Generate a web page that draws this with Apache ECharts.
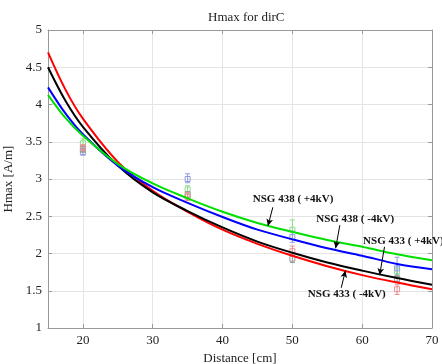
<!DOCTYPE html>
<html>
<head>
<meta charset="utf-8">
<script src="https://cdn.jsdelivr.net/npm/echarts@6/dist/echarts.min.js"></script>
<style>html,body{margin:0;padding:0;background:#fff;}#c{width:442px;height:364px;}</style>
</head>
<body>
<div id="c"></div>
<script>
// ---- data ----
const distance = [15, 17.5, 20, 25, 30, 35, 40, 45, 50, 55, 60, 65, 70];
const nsg433minus = [4.70, 4.20, 3.81, 3.23, 2.84, 2.56, 2.32, 2.13, 1.97, 1.83, 1.71, 1.61, 1.52]; // red
const nsg433plus  = [4.50, 4.05, 3.70, 3.18, 2.82, 2.57, 2.35, 2.16, 2.01, 1.88, 1.77, 1.67, 1.58]; // black
const nsg438minus = [4.23, 3.88, 3.60, 3.18, 2.89, 2.68, 2.49, 2.32, 2.19, 2.07, 1.97, 1.86, 1.79]; // blue
const nsg438plus  = [4.13, 3.82, 3.58, 3.20, 2.94, 2.74, 2.56, 2.41, 2.29, 2.18, 2.09, 1.99, 1.91]; // green

// measured points with error bars: [centre, low, high] at measX
const measX = [20, 35, 50, 65];
const meas433minus = [[3.42, 3.38, 3.46], [2.76, 2.71, 2.82], [2.03, 1.98, 2.10], [1.52, 1.45, 1.58]];
const meas433plus  = [[3.40, 3.36, 3.44], [2.79, 2.75, 2.83], [1.93, 1.88, 1.98], [1.66, 1.62, 1.70]];
const meas438minus = [[3.36, 3.32, 3.41], [3.00, 2.95, 3.07], [2.22, 2.15, 2.30], [1.80, 1.70, 1.95]];
const meas438plus  = [[3.48, 3.43, 3.54], [2.86, 2.81, 2.91], [2.32, 2.20, 2.45], [1.76, 1.72, 1.82]];

const xTicks = [20, 30, 40, 50, 60, 70];

// annotations: label, text position, arrow start, arrow end (data coords)
const notes = [
  {text: 'NSG 438 ( +4kV)', at: [50.1, 2.73], from: [47.2, 2.62], to: [46.5, 2.37]},
  {text: 'NSG 438 ( -4kV)', at: [59.0, 2.46], from: [56.8, 2.38], to: [56.2, 2.07]},
  {text: 'NSG 433 ( +4kV)', at: [65.9, 2.17], from: [63.2, 2.09], to: [62.5, 1.71]},
  {text: 'NSG 433 ( -4kV)', at: [57.8, 1.46], from: [57.0, 1.54], to: [57.6, 1.77]}
];

const FONT = 'Liberation Serif';
function pairs(ys) { return distance.map((x, i) => [x, ys[i]]); }
function measData(m) { return measX.map((x, i) => [x, m[i][0], m[i][1], m[i][2]]); }

function errRender(color) {
  return function (params, api) {
    const x = api.value(0);
    const c = api.coord([x, api.value(1)]);
    const lo = api.coord([x, api.value(2)]);
    const hi = api.coord([x, api.value(3)]);
    const w = 2.5;
    const st = {stroke: color, lineWidth: 1, fill: null};
    return {
      type: 'group',
      children: [
        {type: 'line', shape: {x1: c[0], y1: hi[1], x2: c[0], y2: lo[1]}, style: st},
        {type: 'line', shape: {x1: c[0] - w, y1: hi[1], x2: c[0] + w, y2: hi[1]}, style: st},
        {type: 'line', shape: {x1: c[0] - w, y1: lo[1], x2: c[0] + w, y2: lo[1]}, style: st},
        {type: 'rect', shape: {x: c[0] - 2.5, y: c[1] - 2.5, width: 5, height: 5}, style: st}
      ]
    };
  };
}

const curveDefs = [
  {name: 'NSG 438 ( +4kV)', data: nsg438plus, color: '#00e000', meas: meas438plus, ecolor: '#8fdc8f'},
  {name: 'NSG 438 ( -4kV)', data: nsg438minus, color: '#0000ff', meas: meas438minus, ecolor: '#8f9be0'},
  {name: 'NSG 433 ( +4kV)', data: nsg433plus, color: '#000000', meas: meas433plus, ecolor: '#999999'},
  {name: 'NSG 433 ( -4kV)', data: nsg433minus, color: '#ff0000', meas: meas433minus, ecolor: '#e89090'}
];

const series = [];
curveDefs.forEach(d => {
  series.push({
    type: 'custom', name: d.name + ' meas', renderItem: errRender(d.ecolor),
    data: measData(d.meas), encode: {x: 0, y: 1}, z: 1, silent: true
  });
});
curveDefs.slice().reverse().forEach(d => {
  series.push({
    type: 'line', name: d.name, data: pairs(d.data), smooth: 0.35, showSymbol: false,
    lineStyle: {color: d.color, width: 2}, itemStyle: {color: d.color}, z: 3, silent: true
  });
});
// annotations
series.push({
  type: 'line', data: [], silent: true, z: 5,
  markLine: {
    silent: true, symbol: ['none', 'arrow'], symbolSize: [5, 7],
    lineStyle: {color: '#000', width: 1, type: 'solid'}, label: {show: false},
    data: notes.map(n => [{coord: n.from}, {coord: n.to}])
  },
  markPoint: {
    silent: true, symbol: 'circle', symbolSize: 0,
    label: {show: true, position: 'inside', color: '#111', fontFamily: FONT, fontWeight: 'bold', fontSize: 11,
      formatter: p => p.name},
    data: notes.map(n => ({name: n.text, coord: n.at}))
  }
});

const chart = echarts.init(document.getElementById('c'), null, {renderer: 'canvas'});
chart.setOption({
  animation: false,
  backgroundColor: '#fff',
  title: {text: 'Hmax for dirC', left: 203, top: 6,
    textStyle: {fontFamily: FONT, fontWeight: 'normal', fontSize: 13, color: '#222'}},
  grid: {left: 48, right: 10, top: 30, bottom: 36, outerBoundsMode: 'none', containLabel: false},
  xAxis: [{
    type: 'value', min: 15, max: 70, name: 'Distance [cm]', nameLocation: 'middle', nameGap: 20,
    nameTextStyle: {fontFamily: FONT, fontSize: 13, color: '#222'},
    axisLine: {show: true, lineStyle: {color: '#999'}},
    axisTick: {show: true, inside: true, length: 4, customValues: xTicks, lineStyle: {color: '#999'}},
    axisLabel: {customValues: xTicks, fontFamily: FONT, fontSize: 13, color: '#222', margin: 6},
    splitLine: {show: true, lineStyle: {color: '#e4e4e4'}}
  }, {
    type: 'value', min: 15, max: 70, position: 'top',
    axisLine: {show: true, lineStyle: {color: '#999'}},
    axisTick: {show: true, inside: true, length: 4, customValues: xTicks, lineStyle: {color: '#999'}},
    axisLabel: {show: false}, splitLine: {show: false}
  }],
  yAxis: [{
    type: 'value', min: 1, max: 5, interval: 0.5, name: 'Hmax [A/m]', nameLocation: 'middle', nameGap: 18,
    nameTextStyle: {fontFamily: FONT, fontSize: 13, color: '#222'},
    axisLine: {show: true, lineStyle: {color: '#999'}},
    axisTick: {show: true, inside: true, length: 4, lineStyle: {color: '#999'}},
    axisLabel: {fontFamily: FONT, fontSize: 13, color: '#222', margin: 6},
    splitLine: {show: true, lineStyle: {color: '#e4e4e4'}}
  }, {
    type: 'value', min: 1, max: 5, interval: 0.5, position: 'right',
    axisLine: {show: true, lineStyle: {color: '#999'}},
    axisTick: {show: true, inside: true, length: 4, lineStyle: {color: '#999'}},
    axisLabel: {show: false}, splitLine: {show: false}
  }],
  series: series
});
</script>
</body>
</html>
